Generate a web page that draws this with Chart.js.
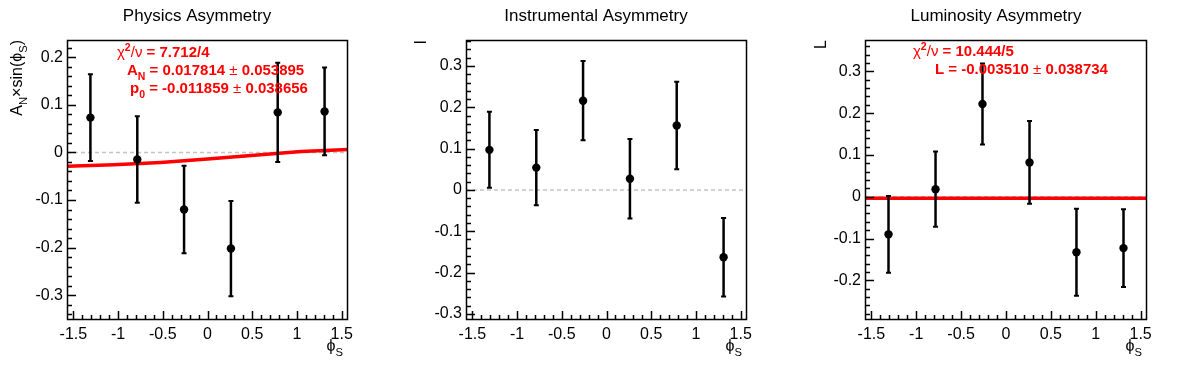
<!DOCTYPE html>
<html>
<head>
<meta charset="utf-8">
<script src="https://cdn.jsdelivr.net/npm/chart.js"></script>
<style>
  body { margin: 0; background: #fff; width: 1196px; height: 372px; overflow: hidden; position: relative; }
  canvas { position: absolute; top: 0; }
</style>
</head>
<body>
<canvas id="c1" width="400" height="372" style="left:0px"></canvas>
<canvas id="c2" width="400" height="372" style="left:400px"></canvas>
<canvas id="c3" width="396" height="372" style="left:800px"></canvas>
<script>
// bin centres in phi_S (6 bins over -pi/2 .. pi/2)
const xCenters = [-1.309, -0.785, -0.262, 0.262, 0.785, 1.309];
const xTicks = [-1.5, -1, -0.5, 0, 0.5, 1, 1.5];
const xTickLabels = ['-1.5', '-1', '-0.5', '0', '0.5', '1', '1.5'];
const xRange = [-1.5708, 1.5708];

// Physics asymmetry
const physY = [0.073, -0.015, -0.120, -0.202, 0.084, 0.086];
const physErr = [0.091, 0.091, 0.092, 0.100, 0.104, 0.092];
const physFitX = [-1.571, -1.047, -0.524, 0, 0.524, 1.047, 1.571];
const physFitY = [-0.029, -0.026, -0.021, -0.014, -0.006, 0.002, 0.006];
const physTicks = [-0.3, -0.2, -0.1, 0, 0.1, 0.2];
const physTickLabels = ['-0.3', '-0.2', '-0.1', '0', '0.1', '0.2'];
const physRange = [-0.352, 0.236];

// Instrumental asymmetry
const instY = [0.097, 0.054, 0.216, 0.027, 0.156, -0.163];
const instErr = [0.092, 0.091, 0.096, 0.096, 0.106, 0.095];
const instTicks = [-0.3, -0.2, -0.1, 0, 0.1, 0.2, 0.3];
const instTickLabels = ['-0.3', '-0.2', '-0.1', '0', '0.1', '0.2', '0.3'];
const instRange = [-0.315, 0.363];

// Luminosity asymmetry
const lumiY = [-0.090, 0.018, 0.222, 0.082, -0.133, -0.123];
const lumiErr = [0.092, 0.090, 0.097, 0.099, 0.104, 0.093];
const lumiFitX = [-1.571, 1.571];
const lumiFitY = [-0.0035, -0.0035];
const lumiTicks = [-0.2, -0.1, 0, 0.1, 0.2, 0.3];
const lumiTickLabels = ['-0.2', '-0.1', '0', '0.1', '0.2', '0.3'];
const lumiRange = [-0.295, 0.375];

const FONT = '"Liberation Sans", Arial, Helvetica, sans-serif';

function richWidth(ctx, parts, size) {
    let w = 0;
    parts.forEach(p => {
        const s = (p.sub || p.sup) ? size * 0.7 : size;
        ctx.font = (p.bold ? 'bold ' : '') + s + 'px ' + FONT;
        w += ctx.measureText(p.t).width;
    });
    return w;
}

function drawRich(ctx, x, y, parts, size) {
    let cx = x;
    ctx.textAlign = 'left';
    ctx.textBaseline = 'alphabetic';
    parts.forEach(p => {
        const s = (p.sub || p.sup) ? size * 0.7 : size;
        ctx.font = (p.bold ? 'bold ' : '') + s + 'px ' + FONT;
        const dy = p.sub ? size * 0.3 : (p.sup ? -size * 0.4 : 0);
        ctx.fillText(p.t, cx, y + dy);
        cx += ctx.measureText(p.t).width;
    });
    return cx;
}

// frame, inward ticks, error bars and text, ROOT style
const rootPlugin = {
    id: 'rootStyle',
    afterDatasetsDraw(chart) {
        const o = chart.options.plugins.rootStyle;
        const ctx = chart.ctx;
        const xs = chart.scales.x, ys = chart.scales.y;
        ctx.save();
        // error bars
        ctx.strokeStyle = '#000';
        o.yVals.forEach((v, i) => {
            const px = xs.getPixelForValue(xCenters[i]);
            const y1 = ys.getPixelForValue(v + o.errs[i]);
            const y2 = ys.getPixelForValue(v - o.errs[i]);
            ctx.lineWidth = 2.5;
            ctx.beginPath();
            ctx.moveTo(px, y1); ctx.lineTo(px, y2);
            ctx.stroke();
            ctx.lineWidth = 2;
            ctx.beginPath();
            ctx.moveTo(px - 2.5, y1); ctx.lineTo(px + 2.5, y1);
            ctx.moveTo(px - 2.5, y2); ctx.lineTo(px + 2.5, y2);
            ctx.stroke();
        });
        ctx.restore();
    },
    afterDraw(chart) {
        const o = chart.options.plugins.rootStyle;
        const ctx = chart.ctx;
        const ca = chart.chartArea;
        const xs = chart.scales.x, ys = chart.scales.y;
        ctx.save();
        ctx.strokeStyle = '#000';
        ctx.fillStyle = '#000';
        ctx.lineWidth = 1.5;
        ctx.strokeRect(ca.left + 0.5, ca.top + 0.5, ca.right - ca.left - 1, ca.bottom - ca.top - 1);

        // inward ticks: majors 0.5 / 0.1, minors 0.1 / 0.02
        for (let k = -16; k <= 16; k++) {
            const px = Math.round(xs.getPixelForValue(k / 10));
            if (px < ca.left || px > ca.right) continue;
            const len = (Math.abs(k) % 5 === 0) ? 9 : 5;
            ctx.fillRect(px - 0.25, ca.bottom - len, 1.5, len);
        }
        for (let k = -20; k <= 20; k++) {
            const py = Math.round(ys.getPixelForValue(k / 50));
            if (py < ca.top || py > ca.bottom) continue;
            const len = (Math.abs(k) % 5 === 0) ? 9 : 5;
            ctx.fillRect(ca.left, py - 0.25, len, 1.5);
        }

        // title
        ctx.font = '17px ' + FONT;
        ctx.textAlign = 'center';
        ctx.textBaseline = 'alphabetic';
        ctx.fillText(o.title, o.titleX, 21);

        // x axis title
        const xt = [{t: 'ϕ'}, {t: 'S', sub: true}];
        const xw = richWidth(ctx, xt, 16);
        drawRich(ctx, ca.right - 5 - xw, 351, xt, 16);

        // y axis title (rotated)
        const yw = richWidth(ctx, o.yTitle, 16);
        ctx.save();
        ctx.translate(o.yTitleX, ca.top);
        ctx.rotate(-Math.PI / 2);
        drawRich(ctx, -yw, 0, o.yTitle, 16);
        ctx.restore();

        // fit statistics
        ctx.fillStyle = '#ff0000';
        o.stats.forEach(s => drawRich(ctx, s.x, s.y, s.parts, 15));
        ctx.restore();
    }
};

function makePanel(id, yVals, errs, fitX, fitY, ticks, tickLabels, range, layout, text) {
    const datasets = [
        {
            type: 'line',
            data: [{x: xRange[0], y: 0}, {x: xRange[1], y: 0}],
            borderColor: '#c4c4c4',
            borderWidth: 1.5,
            borderDash: [4, 3],
            pointRadius: 0,
            order: 3
        }
    ];
    if (fitX) {
        datasets.push({
            type: 'line',
            data: fitX.map((x, i) => ({x: x, y: fitY[i]})),
            borderColor: '#ff0000',
            borderWidth: 3.5,
            pointRadius: 0,
            order: 2
        });
    }
    datasets.push({
        type: 'scatter',
        data: xCenters.map((x, i) => ({x: x, y: yVals[i]})),
        backgroundColor: '#000',
        borderColor: '#000',
        pointRadius: 4.2,
        borderWidth: 0,
        order: 1
    });

    return new Chart(document.getElementById(id), {
        type: 'scatter',
        data: {datasets: datasets},
        options: {
            responsive: false,
            animation: false,
            devicePixelRatio: 1,
            layout: {padding: {left: 0, top: 40, right: layout.padRight, bottom: 0}},
            plugins: {
                legend: {display: false},
                tooltip: {enabled: false},
                rootStyle: Object.assign({yVals: yVals, errs: errs}, text)
            },
            scales: {
                x: {
                    type: 'linear',
                    min: xRange[0],
                    max: xRange[1],
                    afterBuildTicks: s => { s.ticks = xTicks.map(v => ({value: v})); },
                    afterFit: s => { s.height = 52; },
                    grid: {display: false, drawTicks: false},
                    border: {display: false},
                    ticks: {
                        color: '#000',
                        padding: 5,
                        maxRotation: 0,
                        autoSkip: false,
                        font: {family: FONT, size: 16},
                        callback: (v, i) => xTickLabels[i]
                    }
                },
                y: {
                    type: 'linear',
                    min: range[0],
                    max: range[1],
                    afterBuildTicks: s => { s.ticks = ticks.map(v => ({value: v})); },
                    afterFit: s => { s.width = layout.yWidth; },
                    grid: {display: false, drawTicks: false},
                    border: {display: false},
                    ticks: {
                        color: '#000',
                        padding: 4,
                        autoSkip: false,
                        font: {family: FONT, size: 16},
                        callback: (v, i) => tickLabels[i]
                    }
                }
            }
        },
        plugins: [rootPlugin]
    });
}

makePanel('c1', physY, physErr, physFitX, physFitY, physTicks, physTickLabels, physRange,
    {yWidth: 67, padRight: 52},
    {
        title: 'Physics Asymmetry', titleX: 197, yTitleX: 22,
        yTitle: [{t: 'A'}, {t: 'N', sub: true}, {t: '×sin(ϕ'}, {t: 'S', sub: true}, {t: ')'}],
        stats: [
            {x: 117, y: 57, parts: [{t: 'χ'}, {t: '2', sup: true, bold: true}, {t: '/ν'}, {t: ' = 7.712/4', bold: true}]},
            {x: 127, y: 75, parts: [{t: 'A', bold: true}, {t: 'N', sub: true, bold: true}, {t: ' = 0.017814 ', bold: true}, {t: '±'}, {t: ' 0.053895', bold: true}]},
            {x: 130, y: 93, parts: [{t: 'p', bold: true}, {t: '0', sub: true, bold: true}, {t: ' = -0.011859 ', bold: true}, {t: '±'}, {t: ' 0.038656', bold: true}]}
        ]
    });

makePanel('c2', instY, instErr, null, null, instTicks, instTickLabels, instRange,
    {yWidth: 66, padRight: 53},
    {
        title: 'Instrumental Asymmetry', titleX: 196, yTitleX: 26,
        yTitle: [{t: 'I'}],
        stats: []
    });

makePanel('c3', lumiY, lumiErr, lumiFitX, lumiFitY, lumiTicks, lumiTickLabels, lumiRange,
    {yWidth: 65, padRight: 49},
    {
        title: 'Luminosity Asymmetry', titleX: 196, yTitleX: 26,
        yTitle: [{t: 'L'}],
        stats: [
            {x: 113, y: 56, parts: [{t: 'χ'}, {t: '2', sup: true, bold: true}, {t: '/ν'}, {t: ' = 10.444/5', bold: true}]},
            {x: 135, y: 74, parts: [{t: 'L', bold: true}, {t: ' = -0.003510 ', bold: true}, {t: '±'}, {t: ' 0.038734', bold: true}]}
        ]
    });
</script>
</body>
</html>
